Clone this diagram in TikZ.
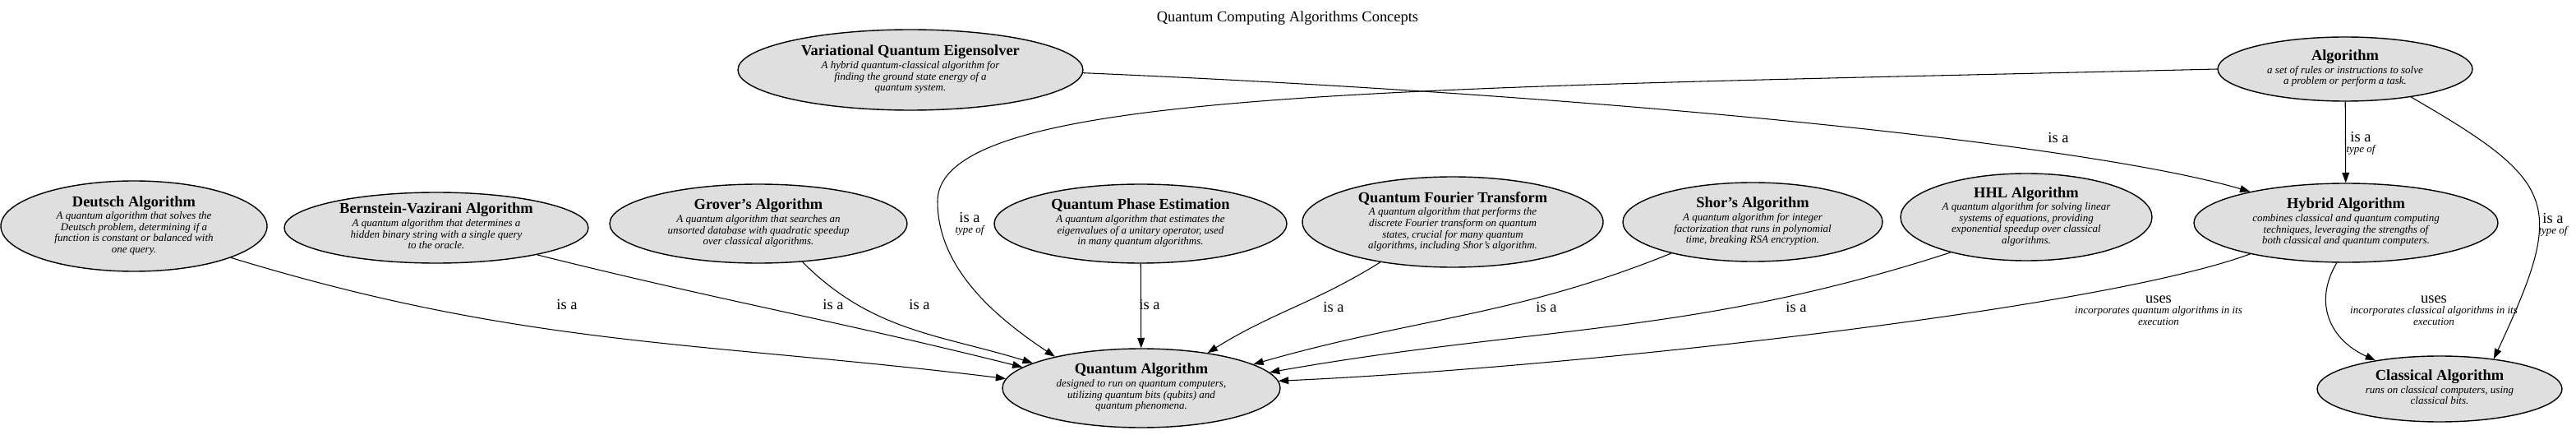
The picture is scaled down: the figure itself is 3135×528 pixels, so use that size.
\documentclass[tikz,border=0pt]{standalone}
\usepackage{fontspec}
\setmainfont{Liberation Serif}
\usetikzlibrary{arrows.meta, shapes.geometric}

\newcommand{\titlefont}{\fontsize{10.5}{12}\selectfont\upshape\bfseries}
\newcommand{\descfont}{\fontsize{7.4}{7.8}\selectfont\itshape}
\newcommand{\relfont}{\fontsize{10.5}{12}\selectfont\upshape}
\newcommand{\concept}[2]{{\descfont\begin{tabular}{@{}c@{}}{\titlefont #1}\\[1pt] #2\end{tabular}}}
\newcommand{\relation}[2]{{\descfont\begin{tabular}{@{}c@{}}{\relfont #1}\\ #2\end{tabular}}}

\begin{document}
\begin{tikzpicture}[x=0.02cm, y=0.02cm]
\def\px{0.02cm}

\tikzstyle{concept node}=[ellipse, draw, line width=0.8pt, fill=gray!25, inner sep=0pt]
\tikzstyle{link}=[-{Triangle[length=7pt,width=5pt]}, line width=0.6pt]
\tikzstyle{annot}=[inner sep=0pt]

\useasboundingbox (0,0) rectangle (3135,528);

% graph title
\node[annot] (T) at (1567,506) {\fontsize{10.5}{12}\selectfont Quantum Computing Algorithms Concepts};

% top row
\node[concept node, minimum width=420*\px, minimum height=98*\px] (VQE) at (1108,443)
  {\concept{Variational Quantum Eigensolver}{A hybrid quantum-classical algorithm for\\finding the ground state energy of a\\quantum system.}};
\node[concept node, minimum width=310*\px, minimum height=78*\px] (ALG) at (2854,444)
  {\concept{Algorithm}{a set of rules or instructions to solve\\a problem or perform a task.}};

% middle row
\node[concept node, minimum width=324*\px, minimum height=110*\px] (DA) at (163,253)
  {\concept{Deutsch Algorithm}{A quantum algorithm that solves the\\Deutsch problem, determining if a\\function is constant or balanced with\\one query.}};
\node[concept node, minimum width=370*\px, minimum height=86*\px] (BV) at (531,251)
  {\concept{Bernstein-Vazirani Algorithm}{A quantum algorithm that determines a\\hidden binary string with a single query\\to the oracle.}};
\node[concept node, minimum width=362*\px, minimum height=96*\px] (GA) at (923,256)
  {\concept{Grover's Algorithm}{A quantum algorithm that searches an\\unsorted database with quadratic speedup\\over classical algorithms.}};
\node[concept node, minimum width=356*\px, minimum height=96*\px] (QPE) at (1388,256)
  {\concept{Quantum Phase Estimation}{A quantum algorithm that estimates the\\eigenvalues of a unitary operator, used\\in many quantum algorithms.}};
\node[concept node, minimum width=366*\px, minimum height=110*\px] (QFT) at (1768,258)
  {\concept{Quantum Fourier Transform}{A quantum algorithm that performs the\\discrete Fourier transform on quantum\\states, crucial for many quantum\\algorithms, including Shor's algorithm.}};
\node[concept node, minimum width=316*\px, minimum height=96*\px] (SA) at (2133,258)
  {\concept{Shor's Algorithm}{A quantum algorithm for integer\\factorization that runs in polynomial\\time, breaking RSA encryption.}};
\node[concept node, minimum width=306*\px, minimum height=106*\px] (HHL) at (2466,264)
  {\concept{HHL Algorithm}{A quantum algorithm for solving linear\\systems of equations, providing\\exponential speedup over classical\\algorithms.}};
\node[concept node, minimum width=370*\px, minimum height=96*\px] (HYB) at (2855,257)
  {\concept{Hybrid Algorithm}{combines classical and quantum computing\\techniques, leveraging the strengths of\\both classical and quantum computers.}};

% bottom row
\node[concept node, minimum width=338*\px, minimum height=96*\px] (QA) at (1389,56)
  {\concept{Quantum Algorithm}{designed to run on quantum computers,\\utilizing quantum bits (qubits) and\\quantum phenomena.}};
\node[concept node, minimum width=298*\px, minimum height=80*\px] (CA) at (2969,55)
  {\concept{Classical Algorithm}{runs on classical computers, using\\classical bits.}};

% quantum algorithms -> Quantum Algorithm
\foreach \src/\a/\b/\o/\i in {DA/-18/176/-17/173, BV/-15/170/-14/166, GA/-41/167/-45/163,
    QFT/-151/28/212/32, SA/-159/12/202/16, HHL/-155/7/198/10}
    \draw[link] (\src.\a) to[out=\o, in=\i] (QA.\b);
\draw[link] (QPE) -- (QA);

% Algorithm / VQE / Hybrid
\draw[link] (ALG.180) .. controls (1700,420) and (1141,420) .. (1141,283)
  .. controls (1141,200) and (1215,140) .. (QA.160);
\draw[link] (VQE.-1) .. controls (2000,410) and (2550,350) .. (HYB.162);
\draw[link] (ALG) -- (HYB);
\draw[link] (ALG.-23) to[out=-30, in=65, looseness=1.6] (CA.29);
\draw[link] (HYB.-162) .. controls (2550,150) and (1900,80) .. (QA.3);
\draw[link] (HYB.-103) .. controls (2815,160) and (2835,115) .. (CA.156);

% edge labels
\foreach \n/\x/\y in {DA/690/158, BV/1014/158, GA/1119/158, QPE/1399/158,
    QFT/1623/155, SA/1882/155, HHL/2186/155, VH/2505/361}
    \node[annot] (l\n) at (\x,\y) {\relfont is a};
\node[annot] (lAQ) at (1180,255) {\relation{is a}{type of}};
\node[annot] (lAH) at (2873,353) {\relation{is a}{type of}};
\node[annot] (lAC) at (3107,254) {\relation{is a}{type of}};
\node[annot] (lHQ) at (2627,149) {\relation{uses}{incorporates quantum algorithms in its\\execution}};
\node[annot] (lHC) at (2962,149) {\relation{uses}{incorporates classical algorithms in its\\execution}};

\end{tikzpicture}
\end{document}
